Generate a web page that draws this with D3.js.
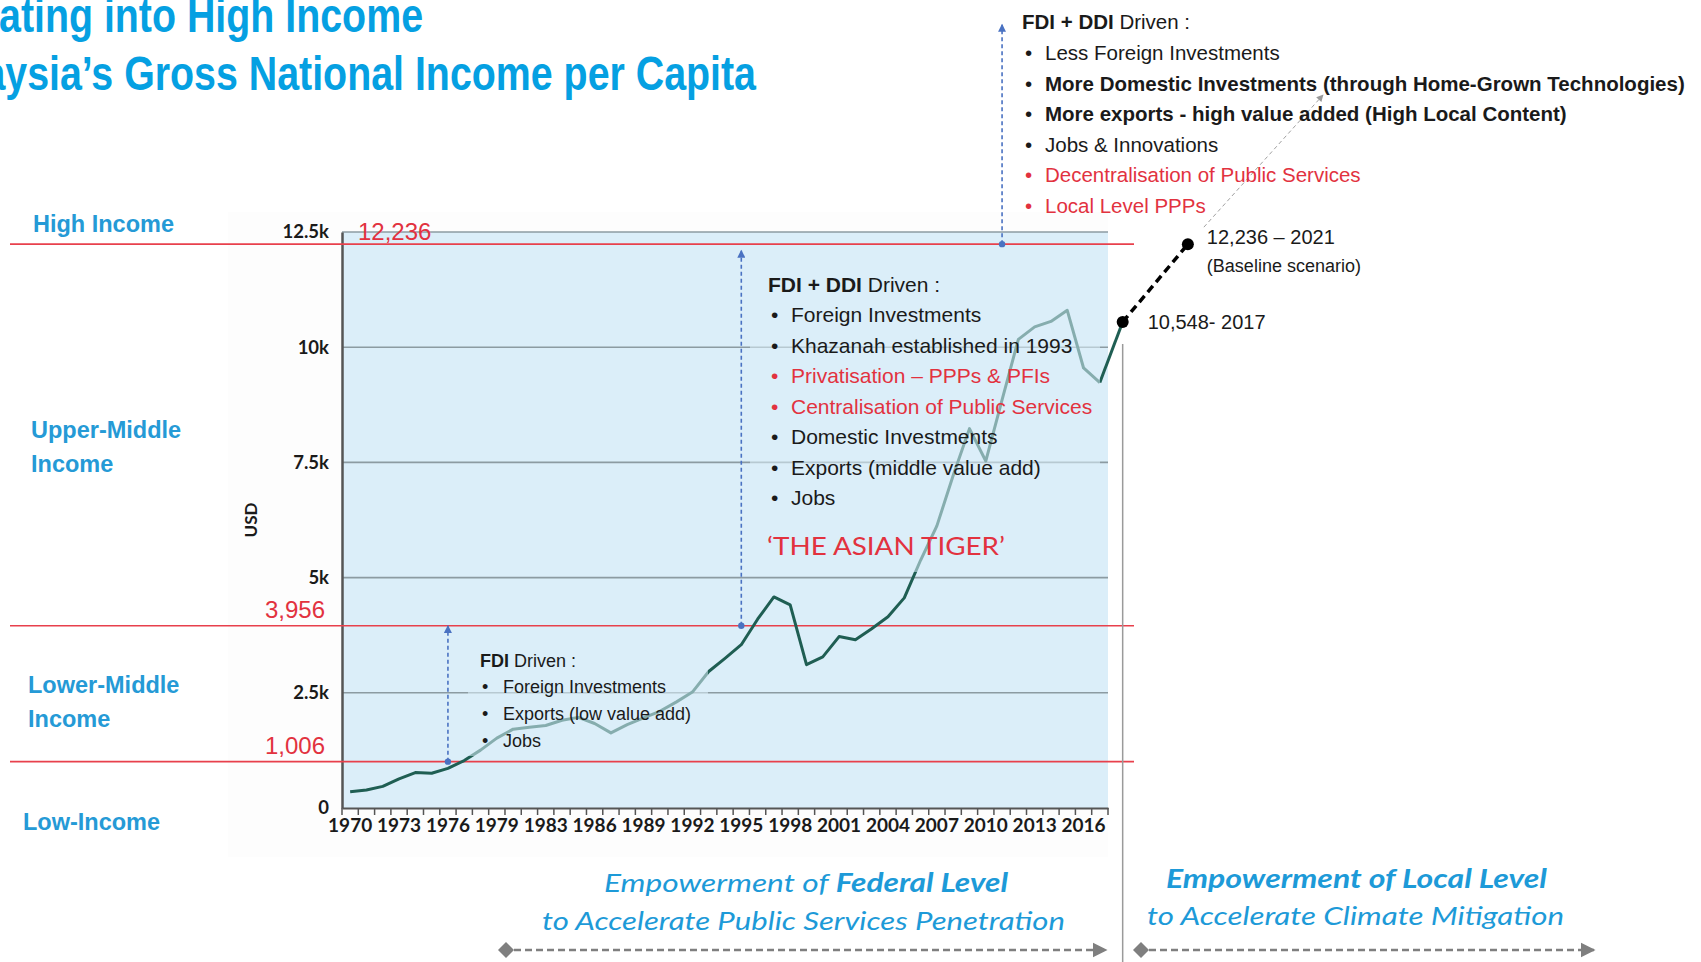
<!DOCTYPE html>
<html>
<head>
<meta charset="utf-8">
<script src="https://cdn.jsdelivr.net/npm/d3@7"></script>
<style>
  body { margin: 0; background: #fff; }
  svg { display: block; }
  text { font-family: "Liberation Sans", Arial, sans-serif; }
</style>
</head>
<body>
<svg id="chart" width="1701" height="962"></svg>
<script>
// ---- data ----
var years = ['1970','1971','1972','1973','1974','1975','1976','1977','1978','1979',
  '1981','1982','1983','1984','1985','1986','1987','1988','1989','1990','1991','1992',
  '1993','1994','1995','1996','1997','1998','1999','2000','2001','2002','2003','2004',
  '2005','2006','2007','2008','2009','2010','2011','2012','2013','2014','2015','2016','2017'];
var gni = [354, 390, 470, 633, 768, 755, 860, 1030, 1256, 1516,
  1711, 1750, 1790, 1904, 1967, 1834, 1630, 1810, 1957, 2099, 2298, 2516,
  2963, 3248, 3544, 4097, 4580, 4410, 3110, 3280, 3720, 3650, 3890, 4150,
  4560, 5376, 6123, 7214, 8233, 7530, 8859, 10170, 10440, 10560, 10800, 9549, 9232];

var xLabelYears = ['1970','1973','1976','1979','1983','1986','1989','1992','1995',
  '1998','2001','2004','2007','2010','2013','2016'];
var yTicks = [0, 2500, 5000, 7500, 10000, 12500];
var yTickLabels = ['0', '2.5k', '5k', '7.5k', '10k', '12.5k'];

var thresholds = [12236, 3956, 1006];
var thresholdLabels = ['12,236', '3,956', '1,006'];

var projYears = [2017, 2021];
var projValues = [10548, 12236];
var projLabels = ['10,548- 2017', '12,236 \u2013 2021'];

var fdiItems = [
  {t: 'Foreign Investments'},
  {t: 'Exports (low value add)'},
  {t: 'Jobs'}
];
var midItems = [
  {t: 'Foreign Investments'},
  {t: 'Khazanah established in 1993'},
  {t: 'Privatisation \u2013 PPPs & PFIs', red: true},
  {t: 'Centralisation of Public Services', red: true},
  {t: 'Domestic Investments'},
  {t: 'Exports (middle value add)'},
  {t: 'Jobs'}
];
var topItems = [
  {t: 'Less Foreign Investments'},
  {t: 'More Domestic Investments (through Home-Grown Technologies)', bold: true},
  {t: 'More exports - high value added (High Local Content)', bold: true},
  {t: 'Jobs & Innovations'},
  {t: 'Decentralisation of Public Services', red: true},
  {t: 'Local Level PPPs', red: true}
];

// ---- colours ----
var blue = '#1d9ad8', titleBlue = '#05a0e2', red = '#e2323f', ink = '#1a1a1a';
var plotBg = '#dbeef9', lineCol = '#1f5e53', arrowBlue = '#4a72c2';

var svg = d3.select('#chart');

var plot = {left: 342, right: 1108, top: 232, bottom: 808};

var x = d3.scaleBand().domain(years).range([plot.left, plot.right]).padding(0);
var y = d3.scaleLinear().domain([0, 12500]).range([plot.bottom, plot.top]);
var xc = function(yr) { return x(yr) + x.bandwidth() / 2; };
// projection years continue the band spacing past the last category
var projX = function(yr) { return xc(years[years.length - 1]) + (yr - 2015.6) * x.step(); };

var defs = svg.append('defs');
function headMarker(id, col, w, h) {
  defs.append('marker').attr('id', id)
    .attr('viewBox', '0 0 10 10').attr('refX', 9).attr('refY', 5)
    .attr('markerWidth', w).attr('markerHeight', h)
    .attr('markerUnits', 'userSpaceOnUse').attr('orient', 'auto')
    .append('path').attr('d', 'M0,0L10,5L0,10Z').attr('fill', col);
}
headMarker('blueHead', arrowBlue, 9, 8);
headMarker('greyHead', '#999', 8, 7);
headMarker('bigHead', '#7f7f7f', 15, 18);

// faint chart panel
svg.append('rect').attr('x', 228).attr('y', 212).attr('width', plot.right - 228)
  .attr('height', 645).attr('fill', '#fdfdfd');

// plot background
svg.append('rect').attr('x', plot.left).attr('y', plot.top)
  .attr('width', plot.right - plot.left).attr('height', plot.bottom - plot.top)
  .attr('fill', plotBg);

// gridlines
svg.append('g').selectAll('line').data(yTicks.filter(function(d) { return d > 0; }))
  .enter().append('line')
  .attr('x1', plot.left).attr('x2', plot.right)
  .attr('y1', function(d) { return y(d); }).attr('y2', function(d) { return y(d); })
  .attr('stroke', '#8c9ba2').attr('stroke-width', 1.6);

// y axis
var yAxis = svg.append('g').attr('transform', 'translate(' + plot.left + ',0)')
  .call(d3.axisLeft(y).tickValues(yTicks).tickSize(0).tickPadding(13)
    .tickFormat(function(d, i) { return yTickLabels[i]; }));
yAxis.select('.domain').attr('stroke', '#555').attr('stroke-width', 2.5);
yAxis.selectAll('text').style('font-family', 'Lato, sans-serif').style('font-weight', 'bold')
  .style('font-size', '18.5px').attr('fill', ink);

// x axis
var xAxis = svg.append('g').attr('transform', 'translate(0,' + plot.bottom + ')')
  .call(d3.axisBottom(x).tickValues(xLabelYears).tickSize(0).tickPadding(11));
xAxis.select('.domain').attr('stroke', '#555').attr('stroke-width', 2);
xAxis.selectAll('text').style('font-family', 'Lato, sans-serif').style('font-weight', 'bold')
  .style('font-size', '19px').attr('fill', ink);
svg.append('g').selectAll('line').data(years.concat(['end'])).enter().append('line')
  .attr('x1', function(d) { return d === 'end' ? plot.right : x(d); })
  .attr('x2', function(d) { return d === 'end' ? plot.right : x(d); })
  .attr('y1', plot.bottom).attr('y2', plot.bottom + 7)
  .attr('stroke', '#555').attr('stroke-width', 1.5);

// USD label
svg.append('text').attr('transform', 'translate(257,520) rotate(-90)')
  .attr('text-anchor', 'middle').style('font-family', 'Lato, sans-serif')
  .style('font-weight', 'bold').style('font-size', '17px').attr('fill', ink).text('USD');

// income threshold lines
svg.append('g').selectAll('line').data(thresholds).enter().append('line')
  .attr('x1', 10).attr('x2', 1134)
  .attr('y1', function(d) { return y(d); }).attr('y2', function(d) { return y(d); })
  .attr('stroke', '#e8404c').attr('stroke-width', 1.6);

svg.append('g').selectAll('text').data(thresholds).enter().append('text')
  .attr('x', function(d, i) { return i === 0 ? 358 : 325; })
  .attr('y', function(d, i) { return y(d) - (i === 0 ? 4 : 8); })
  .attr('text-anchor', function(d, i) { return i === 0 ? 'start' : 'end'; })
  .style('font-size', '24px').attr('fill', red)
  .text(function(d, i) { return thresholdLabels[i]; });

// GNI line
var line = d3.line()
  .x(function(d, i) { return xc(years[i]); })
  .y(function(d) { return y(d); });
svg.append('path').datum(gni).attr('d', line)
  .attr('fill', 'none').attr('stroke', lineCol).attr('stroke-width', 3)
  .attr('stroke-linejoin', 'round');

// link from the last year to the 2017 marker, then the dashed projection
svg.append('line')
  .attr('x1', xc(years[years.length - 1])).attr('y1', y(gni[gni.length - 1]))
  .attr('x2', projX(projYears[0])).attr('y2', y(projValues[0]))
  .attr('stroke', lineCol).attr('stroke-width', 3);
svg.append('line')
  .attr('x1', projX(projYears[0])).attr('y1', y(projValues[0]))
  .attr('x2', projX(projYears[1])).attr('y2', y(projValues[1]))
  .attr('stroke', '#000').attr('stroke-width', 3.5).attr('stroke-dasharray', '8,5');

// section separator
svg.append('line').attr('x1', projX(projYears[0])).attr('x2', projX(projYears[0]))
  .attr('y1', y(projValues[0]) + 22).attr('y2', 962)
  .attr('stroke', '#9a9a9a').attr('stroke-width', 1.5);

// translucent text boxes wash out what lies under them
svg.append('rect').attr('x', 468).attr('y', 642).attr('width', 240).attr('height', 114)
  .attr('fill', plotBg).attr('opacity', 0.55);
svg.append('rect').attr('x', 750).attr('y', 262).attr('width', 350).attr('height', 310)
  .attr('fill', plotBg).attr('opacity', 0.55);

// projection markers and labels
svg.append('g').selectAll('circle').data(projValues).enter().append('circle')
  .attr('cx', function(d, i) { return projX(projYears[i]); })
  .attr('cy', function(d) { return y(d); })
  .attr('r', 6).attr('fill', '#000');

svg.append('text').attr('x', projX(projYears[0]) + 25).attr('y', y(projValues[0]) + 7)
  .style('font-size', '20px').attr('fill', ink).text(projLabels[0]);
svg.append('text').attr('x', projX(projYears[1]) + 19).attr('y', y(projValues[1]))
  .style('font-size', '20px').attr('fill', ink).text(projLabels[1]);
svg.append('text').attr('x', projX(projYears[1]) + 19).attr('y', y(projValues[1]) + 28)
  .style('font-size', '18px').attr('fill', ink).text('(Baseline scenario)');

// thin grey pointer up to the local-level bullets
svg.append('line').attr('x1', projX(projYears[1]) + 16).attr('y1', y(projValues[1]) - 17)
  .attr('x2', 1323).attr('y2', 95)
  .attr('stroke', '#a0a0a0').attr('stroke-width', 1).attr('stroke-dasharray', '4,3')
  .attr('marker-end', 'url(#greyHead)');

// blue dashed arrows between income levels
var arrows = [
  {yr: '1976', from: thresholds[2], to: thresholds[1]},
  {yr: '1995', from: thresholds[1], to: 12100},
  {yr: '2011', from: thresholds[0], to: 17000}
];
arrows.forEach(function(a) {
  svg.append('line')
    .attr('x1', xc(a.yr)).attr('y1', y(a.from)).attr('x2', xc(a.yr)).attr('y2', y(a.to))
    .attr('stroke', arrowBlue).attr('stroke-width', 1.6).attr('stroke-dasharray', '4,3')
    .attr('marker-end', 'url(#blueHead)');
  svg.append('circle').attr('cx', xc(a.yr)).attr('cy', y(a.from)).attr('r', 3.2)
    .attr('fill', arrowBlue);
});

// bullet text blocks
function bulletBlock(o) {
  var head = svg.append('text').attr('x', o.x).attr('y', o.y)
    .style('font-size', o.size + 'px').attr('fill', ink);
  head.append('tspan').attr('font-weight', 'bold').text(o.boldHead);
  head.append('tspan').text(o.head);
  o.items.forEach(function(it, i) {
    var yy = o.y + o.first + i * o.lh;
    var col = it.red ? red : ink;
    svg.append('text').attr('x', o.bx).attr('y', yy).style('font-size', o.size + 'px')
      .attr('fill', col).text('\u2022');
    svg.append('text').attr('x', o.tx).attr('y', yy).style('font-size', o.size + 'px')
      .attr('font-weight', it.bold ? 'bold' : 'normal').attr('fill', col).text(it.t);
  });
}
bulletBlock({x: 480, y: 667, size: 18, boldHead: 'FDI', head: ' Driven :',
  bx: 482, tx: 503, first: 26, lh: 27, items: fdiItems});
bulletBlock({x: 768, y: 292, size: 21, boldHead: 'FDI + DDI', head: ' Driven :',
  bx: 771, tx: 791, first: 30, lh: 30.5, items: midItems});
bulletBlock({x: 1022, y: 29, size: 20.5, boldHead: 'FDI + DDI', head: ' Driven :',
  bx: 1025, tx: 1045, first: 31, lh: 30.5, items: topItems});

svg.append('text').attr('x', 767).attr('y', 555)
  .style('font-family', 'Lato, sans-serif').style('font-size', '25px').attr('fill', red)
  .attr('textLength', 238).attr('lengthAdjust', 'spacingAndGlyphs')
  .text('\u2018THE ASIAN TIGER\u2019');

// income band labels on the left
var bandLabels = [
  {lines: ['High Income'], x: 33, y: 232},
  {lines: ['Upper-Middle', 'Income'], x: 31, y: 438},
  {lines: ['Lower-Middle', 'Income'], x: 28, y: 693},
  {lines: ['Low-Income'], x: 23, y: 830}
];
bandLabels.forEach(function(b) {
  var t = svg.append('text').attr('y', b.y).style('font-size', '23.5px')
    .attr('font-weight', 'bold').attr('fill', '#259ad6');
  b.lines.forEach(function(l, i) {
    t.append('tspan').attr('x', b.x).attr('dy', i ? 34 : 0).text(l);
  });
});

// title (cropped at the left edge of the slide, as in the source)
svg.append('text').attr('transform', 'translate(-1,32) scale(0.82,1)')
  .style('font-size', '48px').attr('font-weight', 'bold').attr('fill', titleBlue)
  .text('ating into High Income');
svg.append('text').attr('transform', 'translate(756,90) scale(0.82,1)')
  .attr('text-anchor', 'end')
  .style('font-size', '48px').attr('font-weight', 'bold').attr('fill', titleBlue)
  .text('Malaysia\u2019s Gross National Income per Capita');

// bottom captions
function caption(xx, yy, w, parts) {
  var t = svg.append('text').attr('x', xx).attr('y', yy)
    .style('font-family', 'Lato, sans-serif').style('font-size', '26px')
    .style('font-style', 'italic').attr('fill', blue)
    .attr('textLength', w).attr('lengthAdjust', 'spacingAndGlyphs');
  parts.forEach(function(p) {
    t.append('tspan').attr('font-weight', p.b ? 'bold' : 'normal').text(p.t);
  });
}
caption(604, 892, 404, [{t: 'Empowerment of '}, {t: 'Federal Level', b: true}]);
caption(542, 930, 523, [{t: 'to Accelerate Public Services Penetration'}]);
caption(1166, 888, 381, [{t: 'Empowerment of Local Level', b: true}]);
caption(1147, 925, 417, [{t: 'to Accelerate Climate Mitigation'}]);

// bottom span arrows
[[506, 1106], [1141, 1594]].forEach(function(s) {
  svg.append('line').attr('x1', s[0] + 8).attr('y1', 950).attr('x2', s[1]).attr('y2', 950)
    .attr('stroke', '#7f7f7f').attr('stroke-width', 2.5).attr('stroke-dasharray', '7,4')
    .attr('marker-end', 'url(#bigHead)');
  svg.append('path').attr('d', 'M' + (s[0] - 8) + ',950L' + s[0] + ',942L' + (s[0] + 8) + ',950L' + s[0] + ',958Z')
    .attr('fill', '#7f7f7f');
});
</script>
</body>
</html>
